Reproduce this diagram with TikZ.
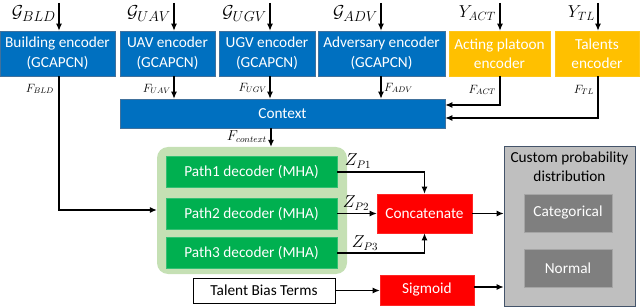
\documentclass[tikz,border=0pt]{standalone}
\usepackage{fontspec}
\setmainfont{Carlito}
\usetikzlibrary{arrows.meta,calc}
\definecolor{encblue}{HTML}{0070C0}
\definecolor{encborder}{HTML}{41719C}
\definecolor{encyellow}{HTML}{FFC000}
\definecolor{decgreen}{HTML}{00B050}
\definecolor{grpgreen}{HTML}{C5E0B4}
\definecolor{cgray}{HTML}{BFBFBF}
\definecolor{dgray}{HTML}{7F7F7F}
\definecolor{slate}{HTML}{44546A}
\begin{document}
\begin{tikzpicture}[x=1pt,y=-1pt,
  box/.style={draw, line width=0.6pt, inner sep=1pt, align=center, font=\fontsize{15.3}{19.5}\selectfont},
  bluebox/.style={box, fill=encblue, draw=encborder, text=white},
  yellowbox/.style={box, fill=encyellow, draw=encyellow!90!white, text=white},
  greenbox/.style={box, fill=decgreen, draw=decgreen!80!white, text=white},
  redbox/.style={box, fill=red, draw=red!85!white, text=white},
  graybox/.style={box, fill=dgray, draw=dgray!70!white, text=white},
  conn/.style={line width=1.1pt, -{Latex[length=7pt,width=6pt]}},
  inlab/.style={font=\fontsize{19}{19}\selectfont, inner sep=1pt},
  flab/.style={font=\fontsize{12}{12}\selectfont, inner sep=1pt},
  zlab/.style={font=\fontsize{16}{16}\selectfont, inner sep=1pt}
]
\useasboundingbox (0,0) rectangle (640,307);

% encoders
\node[bluebox, minimum width=115pt, minimum height=45pt] (bld) at (57.5,53.5) {Building encoder\\(GCAPCN)};
\node[bluebox, minimum width=95pt, minimum height=45pt] (uav) at (167.5,53.5) {UAV encoder\\(GCAPCN)};
\node[bluebox, minimum width=96pt, minimum height=45pt] (ugv) at (267,53.5) {UGV encoder\\(GCAPCN)};
\node[bluebox, minimum width=127pt, minimum height=45pt] (adv) at (381.5,53.5) {Adversary encoder\\(GCAPCN)};
\node[yellowbox, minimum width=101pt, minimum height=45pt] (act) at (499.5,53.5) {Acting platoon\\encoder};
\node[yellowbox, minimum width=84pt, minimum height=45pt] (tl) at (597,53.5) {Talents\\encoder};

% input coordinates and labels
\coordinate (iB) at (59,3);
\coordinate (iU) at (174,3);
\coordinate (iG) at (270,3);
\coordinate (iA) at (381,3);
\coordinate (iC) at (500,3);
\coordinate (iT) at (598,3);
\node[inlab, anchor=east] (lB) at (57,14) {$\mathcal{G}_{BLD}$};
\node[inlab, anchor=east] (lU) at (172,14) {$\mathcal{G}_{UAV}$};
\node[inlab, anchor=east] (lG) at (268,14) {$\mathcal{G}_{UGV}$};
\node[inlab, anchor=east] (lA) at (379,14) {$\mathcal{G}_{ADV}$};
\node[inlab, font=\fontsize{18}{18}\selectfont, anchor=east] (lC) at (497,13) {$Y_{ACT}$};
\node[inlab, font=\fontsize{18}{18}\selectfont, anchor=east] (lT) at (596,13) {$Y_{TL}$};
\draw[conn] (iB) -- (iB |- bld.north);
\draw[conn] (iU) -- (iU |- uav.north);
\draw[conn] (iG) -- (iG |- ugv.north);
\draw[conn] (iA) -- (iA |- adv.north);
\draw[conn] (iC) -- (iC |- act.north);
\draw[conn] (iT) -- (iT |- tl.north);

% context
\node[bluebox, minimum width=325pt, minimum height=29pt] (ctx) at (282.5,113.5) {Context};
\draw[conn] (iU |- uav.south) -- (iU |- ctx.north);
\draw[conn] (iG |- ugv.south) -- (iG |- ctx.north);
\draw[conn] (iA |- adv.south) -- (iA |- ctx.north);
\draw[conn] (iC |- act.south) -- (500,105) -- (ctx.east |- 0,105);
\draw[conn] (iT |- tl.south) -- (598,118) -- (ctx.east |- 0,118);
\node[flab, anchor=east] (fU) at (172,89) {$F_{UAV}$};
\node[flab, anchor=east] (fG) at (268,88) {$F_{UGV}$};
\node[flab, anchor=west] (fA) at (383,88) {$F_{ADV}$};
\node[flab, anchor=east] (fC) at (497,90) {$F_{ACT}$};
\node[flab, anchor=east] (fT) at (595,90) {$F_{TL}$};
\node[flab, anchor=east] (fB) at (55,89) {$F_{BLD}$};

% decoder group
\node[draw=none, fill=grpgreen, rounded corners=11pt, minimum width=190pt, minimum height=127pt, inner sep=0pt] (grp) at (252,210.5) {};
\node[greenbox, minimum width=171pt, minimum height=31pt] (p1) at (251.5,171.5) {Path1 decoder (MHA)};
\node[greenbox, minimum width=171pt, minimum height=31pt] (p2) at (251.5,213.5) {Path2 decoder (MHA)};
\node[greenbox, minimum width=171pt, minimum height=31pt] (p3) at (251.5,253) {Path3 decoder (MHA)};

\coordinate (cx) at (271,128);
\draw[conn] (cx) -- (cx |- grp.north);
\node[flab, font=\fontsize{13.5}{13.5}\selectfont, anchor=east] (fX) at (268,137) {$F_{context}$};

\draw[conn] (bld.south -| iB) -- (59,210) -- (grp.west |- 0,210);

% concatenate
\node[redbox, minimum width=95pt, minimum height=39pt] (cat) at (424.5,213.5) {Concatenate};
\draw[conn] (p1.east |- 0,172) -- (cat.north |- 0,172) -- (cat.north);
\draw[conn] (p2.east |- 0,213.5) -- (cat.west |- 0,213.5);
\draw[conn] (p3.east |- 0,253) -- (cat.south |- 0,253) -- (cat.south);
\node[zlab] (z1) at (358,161) {$Z_{P1}$};
\node[zlab] (z2) at (356,203) {$Z_{P2}$};
\node[zlab] (z3) at (365,243) {$Z_{P3}$};

% custom distribution
\node[draw=slate, line width=0.8pt, fill=cgray, minimum width=131pt, minimum height=160pt, inner sep=0pt] (cpd) at (569.5,226) {};
\node[align=center, font=\fontsize{15.3}{19}\selectfont, inner sep=0pt] (cpdt) at (569.5,167) {Custom probability\\distribution};
\node[graybox, minimum width=88pt, minimum height=38pt] (cat2) at (568,213) {Categorical};
\node[graybox, minimum width=88pt, minimum height=38pt] (nrm) at (568,268) {Normal};
\draw[conn] (cat.east) -- (cpd.west |- cat.east);

% talent bias
\node[box, fill=white, draw=black, minimum width=142pt, minimum height=25pt] (tb) at (264,290.5) {Talent Bias Terms};
\node[redbox, minimum width=94pt, minimum height=30pt] (sig) at (427,290) {Sigmoid};
\draw[conn] (tb.east) -- (sig.west |- tb.east);
\draw[conn] (sig.east |- 0,287) -- (cpd.west |- 0,287);
\end{tikzpicture}
\end{document}
